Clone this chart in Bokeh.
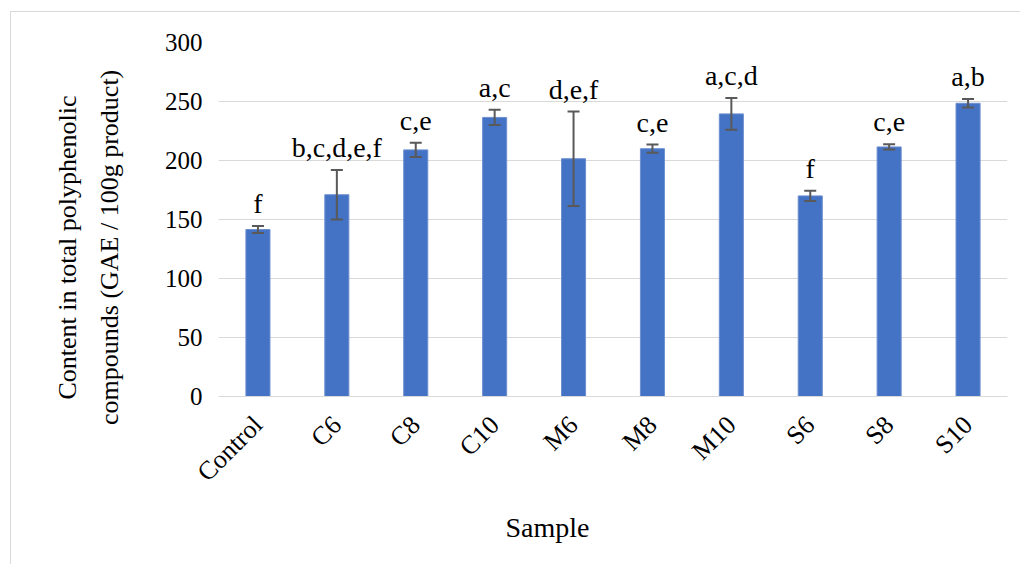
import math
from bokeh.plotting import figure
from bokeh.models import ColumnDataSource, FactorRange, Range1d, Whisker, TeeHead, Title
from bokeh.core.properties import value
from bokeh.embed import file_html
from bokeh.resources import INLINE

categories = ["Control", "C6", "C8", "C10", "M6", "M8", "M10", "S6", "S8", "S10"]
values = [141.5, 171.0, 209.0, 236.5, 201.5, 210.0, 239.5, 170.0, 211.5, 248.5]
errors = [3.0, 21.0, 6.0, 6.5, 40.0, 3.5, 13.5, 4.3, 2.2, 3.6]
letters = ["f", "b,c,d,e,f", "c,e", "a,c", "d,e,f", "c,e", "a,c,d", "f", "c,e", "a,b"]
y_ticks = [0, 50, 100, 150, 200, 250, 300]
y_title_lines = ["Content in total polyphenolic", "compounds (GAE / 100g product)"]
x_title = "Sample"

FONT = "Liberation Serif"
BAR = "#4472C4"
GRID = "#d9d9d9"

src = ColumnDataSource(dict(
    cat=categories,
    val=values,
    upper=[v + e for v, e in zip(values, errors)],
    lower=[v - e for v, e in zip(values, errors)],
    lab=letters,
))

p = figure(
    width=1010, height=553,
    x_range=FactorRange(*categories), y_range=Range1d(0, 300),
    output_backend="svg", toolbar_location=None,
    min_border_left=207, min_border_right=14, min_border_top=30, min_border_bottom=169,
)
p.styles = {"border-left": "1px solid #d9d9d9", "border-top": "1px solid #d9d9d9",
            "margin-left": "10px", "margin-top": "11px"}
p.outline_line_color = None
p.background_fill_color = "white"
p.border_fill_color = "white"

p.vbar(x="cat", top="val", width=0.305, source=src, fill_color=BAR,
       line_color="#6d8fd0", line_width=1)

w = Whisker(base="cat", upper="upper", lower="lower", source=src,
            line_color="#595959", line_width=2, level="overlay",
            upper_head=TeeHead(size=12, line_color="#595959", line_width=2),
            lower_head=TeeHead(size=12, line_color="#595959", line_width=2))
p.add_layout(w)

p.text(x="cat", y="upper", text="lab", source=src, y_offset=-7,
       text_align="center", text_baseline="bottom",
       text_font=value(FONT), text_font_size="28px", text_color="black")

# axes
p.xgrid.grid_line_color = None
p.ygrid.grid_line_color = GRID
p.ygrid.grid_line_width = 1
p.yaxis.ticker = y_ticks
p.yaxis.axis_line_color = None
p.yaxis.major_tick_line_color = None
p.yaxis.minor_tick_line_color = None
p.yaxis.major_label_text_font = FONT
p.yaxis.major_label_text_font_size = "25px"
p.yaxis.major_label_text_color = "black"
p.yaxis.major_label_standoff = 10

p.xaxis.axis_line_color = GRID
p.xaxis.axis_line_width = 1
p.xaxis.major_tick_line_color = None
p.xaxis.minor_tick_line_color = None
p.xaxis.major_label_orientation = math.pi / 4
p.xaxis.major_label_text_font = FONT
p.xaxis.major_label_text_font_size = "26px"
p.xaxis.major_label_text_color = "black"
p.xaxis.major_label_standoff = 18

# spacer between tick labels and the y title
p.add_layout(Title(text=" ", standoff=1, text_font=FONT, text_font_size="26px",
                   text_font_style="normal"), "left")
# y title, two lines (inner line first)
for txt, off in zip(reversed(y_title_lines), [-28.5, -3]):
    p.add_layout(Title(text=txt, align="left", offset=off, standoff=11,
                       text_font=FONT, text_font_size="26px",
                       text_font_style="normal", text_color="black"), "left")
p.add_layout(Title(text=x_title, align="left", offset=287, standoff=18,
                   text_font=FONT, text_font_size="28px",
                   text_font_style="normal", text_color="black"), "below")

open("out.html", "w").write(file_html(p, INLINE))
